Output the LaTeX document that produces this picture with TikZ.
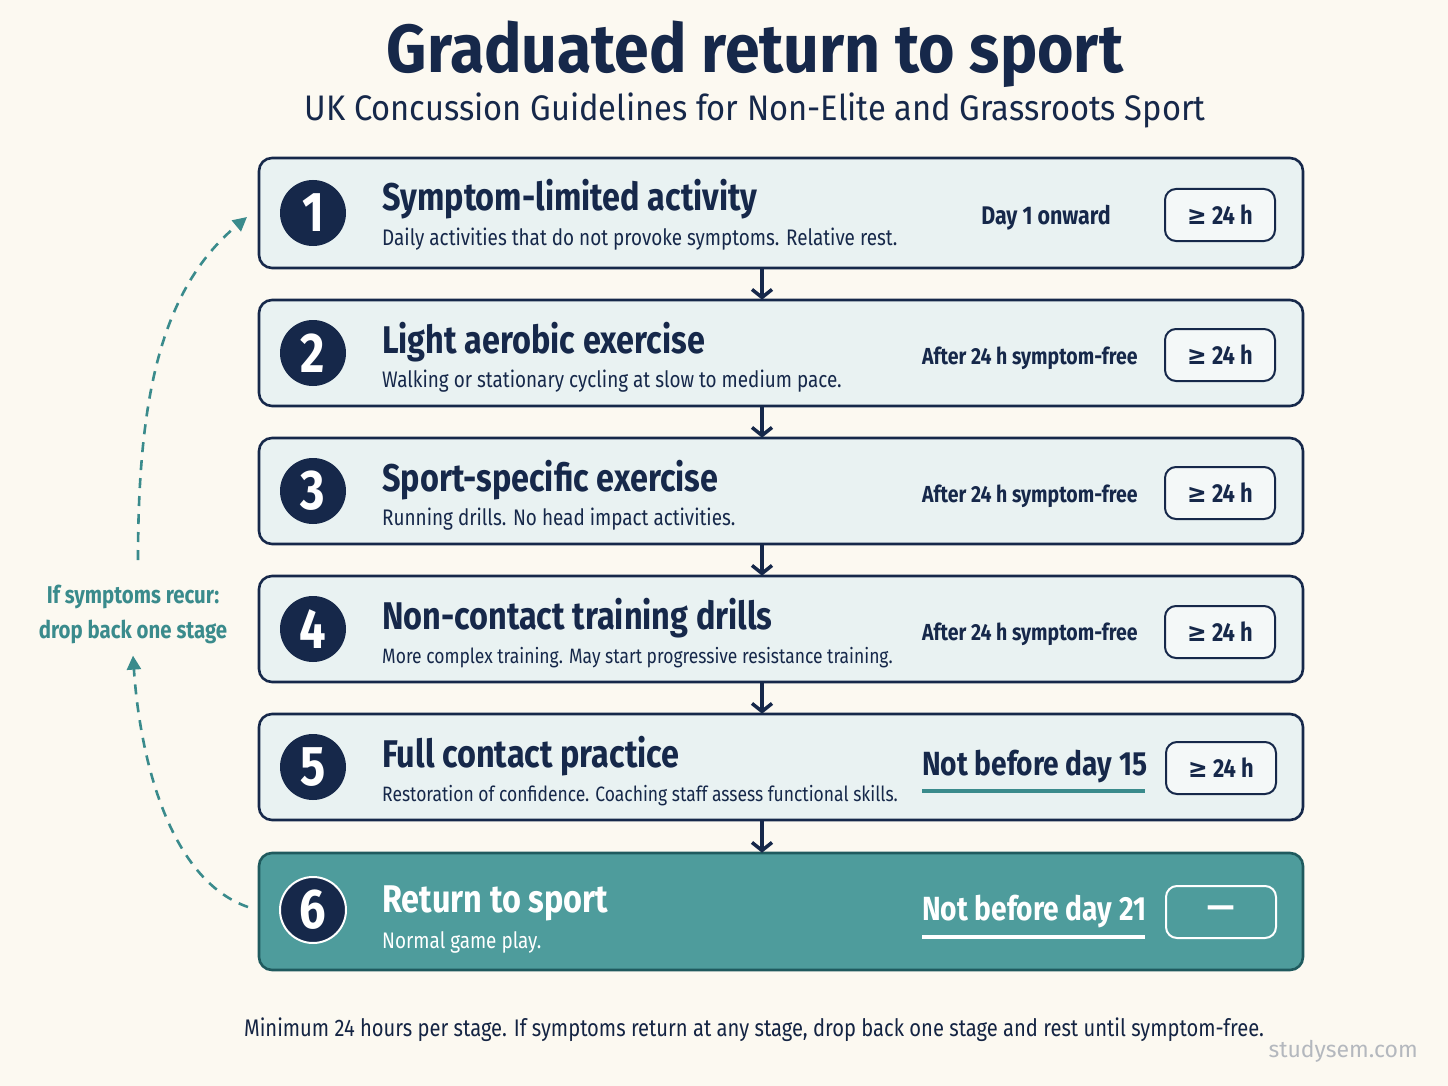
\documentclass[tikz,border=0pt]{standalone}
\usepackage{fontspec}
\setmainfont{Fira Sans}[FakeStretch=0.84]
\newfontfamily\titlef{Fira Sans}[FakeStretch=0.92]
\newfontfamily\plainf{Fira Sans}
\newfontfamily\symf{DejaVu Sans}[FakeStretch=0.9]
\usetikzlibrary{arrows.meta}
\definecolor{bg}{HTML}{FCF9F1}
\definecolor{navy}{HTML}{16284A}
\definecolor{boxfill}{HTML}{E9F2F2}
\definecolor{pillfill}{HTML}{F4F8F8}
\definecolor{teal}{HTML}{3A8B8C}
\definecolor{tealfill}{HTML}{4E9C9C}
\definecolor{tealdark}{HTML}{1F5A5E}
\definecolor{wm}{HTML}{B4B8BE}
\tikzset{
  x=1pt,y=-1pt,
  stagebox/.style={draw=navy,line width=2.6pt,fill=boxfill,rounded corners=13pt,minimum width=1044pt,inner sep=0pt},
  lastbox/.style={stagebox,draw=tealdark,fill=tealfill},
  numc/.style={circle,fill=navy,minimum size=66pt,inner sep=0pt,text=white,font=\fontsize{56}{56}\selectfont\bfseries},
  stitle/.style={anchor=base west,inner sep=0pt,text=navy,font=\fontsize{38.6}{38}\selectfont\bfseries},
  ssub/.style={anchor=base west,inner sep=0pt,text=navy,font=\fontsize{22.5}{22}\selectfont},
  ssubn/.style={ssub,font=\fontsize{20.8}{21}\selectfont},
  rtext/.style={anchor=base west,inner sep=0pt,text=navy,font=\fontsize{23.2}{23}\selectfont\bfseries},
  bigr/.style={anchor=base west,inner sep=0pt,text=navy,font=\fontsize{33.5}{33}\selectfont\bfseries},
  pill/.style={draw=navy,line width=2pt,fill=pillfill,rounded corners=11pt,minimum width=110pt,minimum height=52pt,inner sep=0pt,text=navy,font=\fontsize{26}{26}\selectfont\bfseries},
  flow/.style={draw=navy,line width=3.5pt,-{Straight Barb[length=8pt,width=20pt,line width=3.5pt]}},
  back/.style={draw=teal,line width=2.6pt,dash pattern=on 10pt off 8pt,-{Triangle[length=14pt,width=14pt]}},
}
\newcommand{\mygeq}{{\symf ≥}}
\begin{document}
\begin{tikzpicture}
\fill[bg] (0,0) rectangle (1448,1086);
\useasboundingbox (0,0) rectangle (1448,1086);
% headings
\node[inner sep=0pt,anchor=base,text=navy,font=\titlef\fontsize{68}{68}\selectfont\bfseries] (title) at (755,73) {Graduated return to sport};
\node[inner sep=0pt,anchor=base,text=navy,font=\titlef\fontsize{35.5}{36}\selectfont] (subtitle) at (755,121) {UK Concussion Guidelines for Non-Elite and Grassroots Sport};
% boxes
\node[stagebox,minimum height=110pt] (b1) at (781,213) {};
\node[stagebox,minimum height=106pt] (b2) at (781,353) {};
\node[stagebox,minimum height=106pt] (b3) at (781,491) {};
\node[stagebox,minimum height=106pt] (b4) at (781,629) {};
\node[stagebox,minimum height=106pt] (b5) at (781,767) {};
\node[lastbox,minimum height=117pt] (b6) at (781,911.5) {};
% circles
\node[numc] (c1) at (313,213) {1};
\node[numc] (c2) at (313,353) {2};
\node[numc] (c3) at (313,491) {3};
\node[numc] (c4) at (313,629) {4};
\node[numc] (c5) at (313,767) {5};
\node[numc,draw=white,line width=2pt] (c6) at (313,910) {6};
% texts
\node[stitle] (t1) at (382,211) {Symptom-limited activity};
\node[ssub] (s1) at (382,245) {Daily activities that do not provoke symptoms. Relative rest.};
\node[stitle] (t2) at (382,353) {Light aerobic exercise};
\node[ssub] (s2) at (382,387) {Walking or stationary cycling at slow to medium pace.};
\node[stitle] (t3) at (382,491) {Sport-specific exercise};
\node[ssub] (s3) at (382,525) {Running drills. No head impact activities.};
\node[stitle] (t4) at (382,629) {Non-contact training drills};
\node[ssubn] (s4) at (382,663) {More complex training. May start progressive resistance training.};
\node[stitle] (t5) at (382,767) {Full contact practice};
\node[ssubn] (s5) at (382,801) {Restoration of confidence. Coaching staff assess functional skills.};
\node[stitle,text=white] (t6) at (382,912) {Return to sport};
\node[ssub,text=white] (s6) at (382,948) {Normal game play.};
% right column
\node[rtext,anchor=base,font=\fontsize{25.5}{25}\selectfont\bfseries] (r1) at (1046,225) {Day 1 onward};
\node[rtext] (r2) at (922,364) {After 24 h symptom-free};
\node[rtext] (r3) at (922,502) {After 24 h symptom-free};
\node[rtext] (r4) at (922,640) {After 24 h symptom-free};
\node[bigr] (r5) at (922,775) {Not before day 15};
\node[bigr,text=white] (r6) at (922,920) {Not before day 21};
\draw[teal,line width=4pt] (r5.west |- 0,791) coordinate (u5a) -- (1145,791) coordinate (u5b);
\draw[white,line width=4pt] (r6.west |- 0,937) coordinate (u6a) -- (1145,937) coordinate (u6b);
% pills
\node[pill] (p1) at (1220,215) {\mygeq{} 24 h};
\node[pill] (p2) at (1220,355) {\mygeq{} 24 h};
\node[pill] (p3) at (1220,493) {\mygeq{} 24 h};
\node[pill] (p4) at (1220,632) {\mygeq{} 24 h};
\node[pill] (p5) at (1221,768) {\mygeq{} 24 h};
\node[pill,draw=white,fill=tealfill,text=white,font=\plainf\fontsize{34}{34}\selectfont\bfseries] (p6) at (1221,912) {—};
% flow arrows
\coordinate (ax) at (762,0);
\draw[flow] (b1.south -| ax) -- ([yshift=-1pt]b2.north -| ax);
\draw[flow] (b2.south -| ax) -- ([yshift=-1pt]b3.north -| ax);
\draw[flow] (b3.south -| ax) -- ([yshift=-1pt]b4.north -| ax);
\draw[flow] (b4.south -| ax) -- ([yshift=-1pt]b5.north -| ax);
\draw[flow] (b5.south -| ax) -- ([yshift=-1pt]b6.north -| ax);
% drop back loop
\node[align=center,text=teal,inner sep=0pt,font=\fontsize{24.3}{35}\selectfont\bfseries] (rec) at (133,614) {If symptoms recur:\\drop back one stage};
\coordinate (r0) at (248,907);
\coordinate (rtop) at (138,560);
\coordinate (r1e) at (247,217);
\draw[back] (r0) .. controls (170,880) and (140,760) .. ([yshift=-12pt]rec.south);
\draw[back] (rtop) .. controls (138,400) and (160,290) .. (r1e);
% footer
\node[anchor=base,inner sep=0pt,text=navy!90!black,font=\fontsize{24}{24}\selectfont] (foot) at (754,1036) {Minimum 24 hours per stage. If symptoms return at any stage, drop back one stage and rest until symptom-free.};
\node[anchor=base east,inner sep=0pt,text=wm,font=\plainf\fontsize{23}{23}\selectfont] (wmk) at (1418,1057) {studysem.com};
\end{tikzpicture}
\end{document}
